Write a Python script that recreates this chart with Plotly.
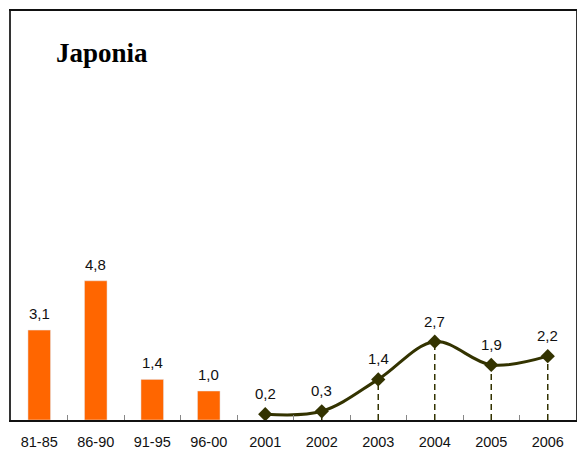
import plotly.graph_objects as go

categories = ["81-85", "86-90", "91-95", "96-00", "2001", "2002", "2003", "2004", "2005", "2006"]
bar_cats = ["81-85", "86-90", "91-95", "96-00"]
bar_vals = [3.1, 4.8, 1.4, 1.0]
line_cats = ["2001", "2002", "2003", "2004", "2005", "2006"]
line_vals = [0.2, 0.3, 1.4, 2.7, 1.9, 2.2]
title_text = "Japonia"

def fmt(v):
    return f"{v:.1f}".replace(".", ",")

ORANGE = "#FF6600"
OLIVE = "#333300"

fig = go.Figure()

fig.add_trace(go.Bar(x=bar_cats, y=bar_vals, marker_color=ORANGE, width=0.4,
                     hoverinfo="skip", showlegend=False))

# dashed drop lines
dx, dy = [], []
for c, v in zip(line_cats, line_vals):
    dx += [c, c, None]
    dy += [0, v, None]
fig.add_trace(go.Scatter(x=dx, y=dy, mode="lines",
                         line=dict(color=OLIVE, width=1.5, dash="6px,4px"),
                         hoverinfo="skip", showlegend=False))

fig.add_trace(go.Scatter(x=line_cats, y=line_vals, mode="lines+markers",
                         line=dict(color=OLIVE, width=3, shape="spline", smoothing=1),
                         marker=dict(symbol="diamond", size=11, color=OLIVE),
                         hoverinfo="skip", showlegend=False))

font_lbl = dict(family="Liberation Sans, Arial", size=15, color="#111111")
for c, v in zip(bar_cats, bar_vals):
    fig.add_annotation(x=categories.index(c), y=v, text=fmt(v), showarrow=False,
                       yanchor="bottom", yshift=6, font=font_lbl)
for c, v in zip(line_cats, line_vals):
    fig.add_annotation(x=categories.index(c), y=v, text=fmt(v), showarrow=False,
                       yanchor="bottom", yshift=10, font=font_lbl)

fig.add_annotation(xref="paper", yref="paper", x=0.076, y=0.898, xanchor="left",
                   yanchor="middle", text="<b>" + title_text + "</b>", showarrow=False,
                   font=dict(family="Liberation Serif, Times New Roman, serif", size=27,
                             color="#000000"))

# the page body has an 8px default margin, so the figure is offset by 8px
fig.update_layout(
    width=577, height=446,
    margin=dict(l=3, r=9, t=1, b=34),
    paper_bgcolor="white", plot_bgcolor="white",
    bargap=0.6,
    xaxis=dict(type="category", categoryorder="array", categoryarray=categories,
               showline=True, linecolor="#111111", linewidth=1.5, mirror=True,
               ticks="inside", tickson="boundaries", ticklen=5, tickcolor="#888888",
               tickfont=dict(family="Liberation Sans, Arial", size=14.5, color="#111111"),
               ticklabelstandoff=8, showgrid=False, zeroline=False,
               range=[-0.5, 9.5]),
    yaxis=dict(range=[0, 14.1], showline=True, linecolor="#333333", linewidth=1.5,
               mirror=True, showticklabels=False, ticks="", showgrid=False,
               zeroline=False),
)

fig.write_html("out.html")
